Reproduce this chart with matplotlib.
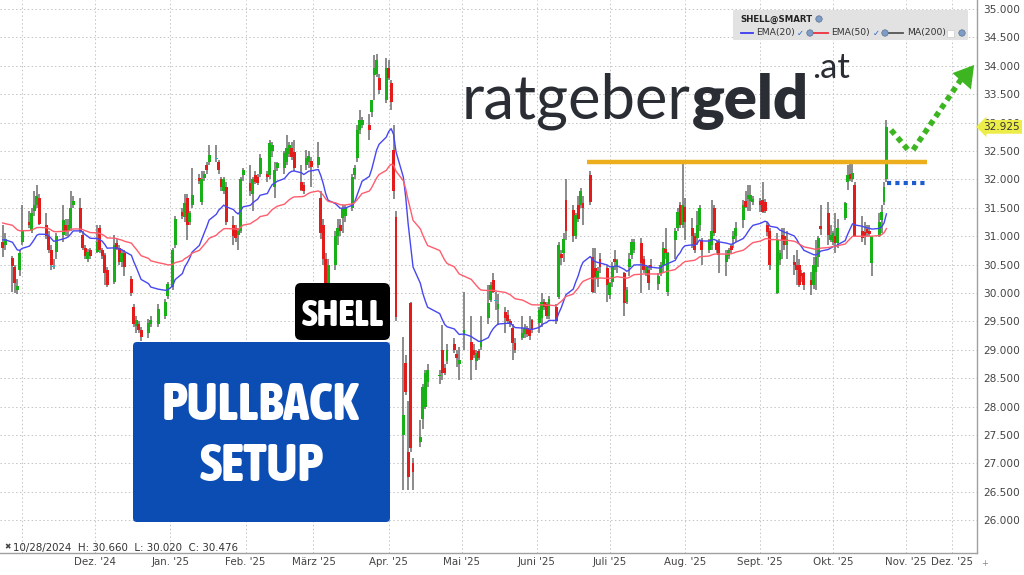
import os
import numpy as np
import pandas as pd
import matplotlib
matplotlib.use('Agg')
import matplotlib.pyplot as plt
import matplotlib.dates as mdates
from matplotlib import font_manager, transforms
from matplotlib.font_manager import FontProperties
from matplotlib.patches import FancyBboxPatch, Rectangle, Polygon, Circle
from matplotlib.lines import Line2D

W, H = 1024, 575

# ---------------- data ----------------
holidays = ['2024-12-25', '2024-12-26', '2025-01-01', '2025-04-18', '2025-04-21', '2025-05-01']
dates = [d for d in pd.bdate_range('2024-10-24', '2025-10-23') if d.strftime('%Y-%m-%d') not in holidays]

opens = [30.90, 30.85, 30.62, 30.45, 30.05, 30.40, 30.90,
         31.25, 31.10, 31.45, 31.55, 31.67,
         31.20, 31.00, 30.75, 30.46, 30.72,
         31.02, 31.20, 31.10, 31.15, 31.55,
         31.50, 31.02, 30.80, 30.60, 30.75,
         30.72, 31.15, 30.75, 30.67, 30.40,
         30.20, 30.88, 30.80, 30.55, 30.70,
         30.25, 29.75, 29.42, 29.45, 29.35,
         29.30, 29.45, 29.45,
         29.60, 29.95, 30.10, 30.85,
         31.42, 31.33, 31.67, 31.25, 31.55,
         32.02, 31.60, 32.02, 32.25, 32.30,
         32.36, 32.30, 32.00, 31.80, 31.87,
         31.20, 31.15, 31.02, 31.10, 32.07,
         31.93, 31.75, 32.07, 32.05, 32.10,
         32.10, 32.08, 32.50, 31.87, 32.20,
         32.20, 32.30, 32.45, 32.55, 32.48,
         31.95, 31.90, 32.25, 32.30, 32.32,
         32.25, 31.67, 31.20, 30.60, 30.15,
         30.50, 31.00, 31.20, 31.32, 31.35,
         31.50, 32.07, 32.38, 32.87, 32.95,
         32.96, 33.19, 33.84, 33.85, 33.78,
         33.40, 33.96, 33.70, 32.52, 31.34,
         27.50, 28.77, 27.20, 29.82, 27.00,
         27.38, 27.78, 28.00, 28.43,
         28.54, 29.00, 28.68, 28.80,
         29.10, 28.92, 28.75, 29.26,
         29.14, 29.00, 28.80, 28.98, 29.05,
         29.56, 29.88, 30.23, 29.86, 29.72,
         29.67, 29.62, 29.50, 29.38, 29.12,
         29.20, 29.28, 29.38, 29.35, 29.52,
         29.47, 29.56, 29.84, 29.80, 29.60,
         29.75, 29.93, 30.68, 30.70, 31.64,
         31.46, 31.00, 31.55, 31.55, 31.58,
         32.07, 30.63, 30.44, 30.25, 30.60,
         30.44, 29.96, 30.20, 30.60, 30.45,
         30.35, 29.85, 30.45, 30.67, 30.75,
         30.88, 30.60, 30.35, 30.40, 30.50,
         30.15, 30.35, 30.50, 30.78, 30.02,
         30.93, 31.14, 31.55, 31.20, 31.52,
         31.15, 31.00, 30.97, 31.20, 30.93,
         30.75, 30.85, 31.50, 30.88, 30.90,
         30.55, 30.65, 30.82, 30.95, 31.00,
         31.28, 31.62, 31.65, 31.62, 31.60,
         31.62, 31.64, 31.60, 31.20, 31.10,
         30.00, 30.58, 31.02, 31.00, 30.85,
         30.55, 30.50, 30.50, 30.35, 30.35,
         30.23, 30.14, 30.37, 30.63, 31.18,
         31.40, 30.93, 30.90, 31.00, 30.88,
         31.32, 31.95, 32.10, 32.00, 31.90,
         31.10, 31.08, 31.12, 31.10, 30.53,
         31.00, 31.29, 31.60, 32.00]

highs = [31.20, 31.05, 30.66, 30.50, 30.25, 30.75, 31.55,
         31.45, 31.50, 31.80, 31.90, 31.75,
         31.40, 31.10, 30.85, 30.60, 31.05,
         31.55, 31.30, 31.30, 31.80, 31.70,
         31.68, 31.10, 30.85, 30.78, 30.80,
         31.20, 31.20, 30.80, 30.70, 30.45,
         31.02, 30.95, 30.85, 30.75, 30.75,
         30.30, 29.80, 29.60, 29.50, 29.40,
         29.55, 29.60, 29.80,
         29.90, 30.20, 30.80, 31.35,
         31.50, 31.75, 31.75, 31.45, 32.20,
         32.10, 32.15, 32.15, 32.30, 32.60,
         32.60, 32.35, 32.05, 32.05, 31.95,
         31.35, 31.20, 31.15, 32.05, 32.20,
         32.25, 32.05, 32.15, 32.10, 32.45,
         32.15, 32.70, 32.65, 32.30, 32.30,
         32.50, 32.78, 32.65, 32.65, 32.70,
         32.25, 31.95, 32.52, 32.50, 32.40,
         32.65, 31.80, 31.30, 30.70, 30.60,
         31.10, 31.30, 31.30, 31.55, 31.55,
         32.10, 32.25, 32.95, 33.22, 33.10,
         33.15, 33.40, 34.19, 34.20, 33.85,
         34.14, 34.10, 33.75, 32.96, 31.45,
         29.23, 28.90, 28.10, 29.85, 27.10,
         27.76, 28.40, 28.65, 28.75,
         28.64, 29.44, 28.75, 29.10,
         29.20, 29.00, 29.05, 30.02,
         29.60, 29.10, 29.00, 29.02, 29.60,
         30.14, 30.20, 30.35, 30.02, 29.98,
         29.75, 29.70, 29.55, 29.45, 29.20,
         29.60, 29.45, 29.42, 29.60, 29.55,
         29.75, 30.00, 29.90, 29.85, 29.95,
         29.80, 30.90, 30.75, 31.05, 32.00,
         31.55, 31.40, 31.70, 31.85, 31.70,
         32.15, 30.80, 30.80, 30.45, 30.70,
         30.50, 30.20, 30.55, 30.75, 30.60,
         30.37, 30.10, 30.70, 30.95, 30.95,
         30.97, 30.65, 30.50, 30.50, 30.60,
         30.35, 30.55, 30.90, 31.15, 30.72,
         31.15, 31.50, 31.60, 32.30, 31.67,
         31.32, 31.05, 31.45, 31.55, 30.97,
         30.95, 31.64, 31.55, 30.92, 30.95,
         30.75, 30.80, 30.85, 31.10, 31.25,
         31.64, 31.80, 31.90, 31.90, 31.70,
         31.68, 31.95, 31.65, 31.25, 31.15,
         31.05, 30.75, 31.15, 31.15, 31.10,
         30.67, 30.75, 30.60, 30.40, 30.37,
         30.37, 30.63, 30.93, 31.00, 31.55,
         31.60, 31.20, 31.10, 31.40, 31.30,
         31.60, 32.25, 32.30, 32.30, 31.95,
         31.35, 31.25, 31.20, 31.20, 31.00,
         31.40, 31.55, 31.95, 33.05]

lows = [30.63, 30.75, 30.02, 30.00, 29.98, 30.30, 30.85,
        31.15, 31.05, 31.35, 31.50, 31.20,
        30.95, 30.70, 30.40, 30.42, 30.60,
        30.90, 31.00, 31.00, 31.10, 31.50,
        31.05, 30.75, 30.60, 30.55, 30.60,
        30.70, 30.70, 30.60, 30.14, 30.10,
        30.15, 30.75, 30.50, 30.45, 30.30,
        29.95, 29.40, 29.30, 29.30, 29.15,
        29.20, 29.40, 29.40,
        29.55, 29.90, 30.05, 30.80,
        31.30, 31.25, 30.93, 31.20, 31.50,
        31.92, 31.55, 31.98, 32.10, 32.25,
        32.30, 32.10, 31.80, 31.75, 31.20,
        30.85, 30.90, 30.75, 31.05, 31.98,
        31.70, 31.45, 31.92, 31.90, 32.05,
        31.95, 32.00, 32.40, 31.67, 32.15,
        32.10, 32.25, 32.40, 32.35, 32.15,
        31.80, 31.75, 32.17, 32.20, 31.87,
        32.20, 30.95, 30.50, 30.00, 30.05,
        30.40, 30.85, 31.00, 31.05, 31.25,
        31.45, 32.00, 32.30, 32.80, 32.90,
        32.70, 33.10, 33.40, 33.80, 33.50,
        33.35, 33.75, 33.22, 31.65, 29.50,
        26.53, 28.20, 26.53, 27.20, 26.53,
        27.29, 27.60, 27.95, 28.35,
        28.40, 28.47, 28.55, 28.75,
        28.95, 28.70, 28.47, 29.00,
        28.47, 28.85, 28.64, 28.82, 29.00,
        29.45, 29.85, 30.00, 29.70, 29.44,
        29.30, 29.45, 29.40, 28.82, 28.95,
        29.17, 29.20, 29.22, 29.17, 29.30,
        29.30, 29.40, 29.70, 29.55, 29.55,
        29.45, 29.90, 30.50, 30.55, 30.93,
        30.90, 30.95, 31.25, 31.50, 31.20,
        31.55, 30.00, 30.00, 30.10, 30.35,
        29.85, 29.90, 30.10, 30.40, 30.35,
        29.60, 29.80, 30.30, 30.60, 30.70,
        30.00, 30.35, 30.30, 30.05, 30.40,
        30.05, 30.30, 30.35, 30.60, 29.95,
        30.60, 31.10, 31.15, 31.15, 30.93,
        30.80, 30.70, 30.85, 31.10, 30.50,
        30.70, 30.75, 31.00, 30.70, 30.35,
        30.30, 30.60, 30.70, 30.80, 30.90,
        31.15, 31.50, 31.45, 31.45, 31.55,
        31.42, 31.40, 31.40, 31.00, 30.40,
        29.98, 30.50, 30.60, 30.75, 30.60,
        30.32, 30.14, 30.10, 30.20, 30.05,
        29.96, 30.07, 30.05, 30.45, 31.02,
        30.85, 30.90, 30.85, 30.70, 30.80,
        31.28, 31.81, 31.98, 31.95, 31.00,
        30.90, 30.85, 31.00, 31.00, 30.30,
        30.98, 31.05, 31.55, 31.95]

closes = [30.80, 30.95, 30.476, 30.18, 30.12, 30.70, 31.10,
          31.20, 31.40, 31.55, 31.70, 31.22,
          31.00, 30.76, 30.50, 30.46, 31.00,
          31.28, 31.10, 31.20, 31.50, 31.62,
          31.10, 30.80, 30.65, 30.72, 30.65,
          30.90, 30.75, 30.65, 30.35, 30.14,
          30.85, 30.78, 30.55, 30.70, 30.45,
          30.00, 29.45, 29.52, 29.35, 29.22,
          29.48, 29.52, 29.72,
          29.85, 30.15, 30.76, 31.30,
          31.35, 31.58, 31.20, 31.40, 31.73,
          31.97, 32.00, 32.10, 32.16, 32.43,
          32.36, 32.16, 31.87, 32.00, 31.25,
          31.00, 30.97, 31.10, 32.00, 32.16,
          31.80, 32.00, 31.95, 31.93, 32.38,
          32.05, 32.64, 32.60, 32.16, 32.28,
          32.46, 32.55, 32.60, 32.40, 32.20,
          31.82, 31.80, 32.38, 32.42, 32.22,
          32.40, 31.05, 30.60, 30.10, 30.50,
          31.00, 31.15, 31.10, 31.50, 31.50,
          32.04, 32.20, 32.87, 33.05, 33.04,
          32.87, 33.40, 33.96, 34.10, 33.57,
          33.96, 33.78, 33.36, 31.80, 29.58,
          27.85, 28.26, 26.76, 27.27, 26.85,
          27.46, 28.35, 28.60, 28.65,
          28.56, 28.60, 28.60, 29.00,
          29.00, 28.85, 28.82, 29.35,
          28.82, 28.90, 28.95, 28.86, 29.17,
          29.82, 30.14, 30.02, 29.86, 29.80,
          29.56, 29.50, 29.45, 29.12, 29.00,
          29.30, 29.38, 29.28, 29.25, 29.35,
          29.70, 29.84, 29.75, 29.60, 29.90,
          29.50, 30.85, 30.62, 30.95, 31.10,
          31.00, 31.37, 31.30, 31.80, 31.50,
          31.60, 30.02, 30.28, 30.38, 30.45,
          30.14, 30.18, 30.45, 30.55, 30.58,
          29.82, 30.05, 30.60, 30.90, 30.90,
          30.53, 30.40, 30.45, 30.18, 30.45,
          30.30, 30.50, 30.80, 30.70, 30.70,
          31.10, 31.42, 31.20, 31.55, 31.25,
          31.00, 30.75, 31.20, 31.50, 30.76,
          30.90, 31.10, 31.05, 30.75, 30.67,
          30.67, 30.75, 30.76, 31.00, 31.15,
          31.55, 31.52, 31.73, 31.72, 31.66,
          31.55, 31.43, 31.45, 31.08, 30.50,
          30.93, 30.70, 30.93, 30.85, 30.95,
          30.50, 30.40, 30.14, 30.30, 30.14,
          30.14, 30.50, 30.63, 30.97, 31.12,
          31.02, 31.02, 31.05, 30.88, 31.15,
          31.58, 32.07, 32.00, 32.12, 31.00,
          30.97, 31.00, 31.05, 31.04, 31.00,
          31.25, 31.42, 31.87, 32.925]

ema20_seed = 30.95
ema50_seed = 31.25
resistance = 32.30
stop_level = 31.94
last_price = 32.925

y_ticks = list(np.arange(26.0, 35.01, 0.5))
tick_dates = ['2024-11-01', '2024-12-01', '2025-01-01', '2025-02-01', '2025-03-01', '2025-04-01',
              '2025-05-01', '2025-06-01', '2025-07-01', '2025-08-01', '2025-09-01', '2025-10-01',
              '2025-10-31', '2025-11-19']
tick_labels = ['', "Dez. '24", "Jan. '25", "Feb. '25", "März '25", "Apr. '25", "Mai '25",
               "Juni '25", "Juli '25", "Aug. '25", "Sept. '25", "Okt. '25", "Nov. '25", "Dez. '25"]

n = min(len(dates), len(opens), len(highs), len(lows), len(closes))
dates = dates[:n]
o = np.array(opens[:n]); h = np.array(highs[:n]); l = np.array(lows[:n]); c = np.array(closes[:n])


def ema(values, span, seed):
    a = 2.0 / (span + 1)
    out, prev = [], seed
    for v in values:
        prev = prev + a * (v - prev)
        out.append(prev)
    return np.array(out)


ema20 = ema(c, 20, ema20_seed)
ema50 = ema(c, 50, ema50_seed)

# ---------------- fonts ----------------
def pick_font(condensed=True, min_weight=600):
    best, best_score = None, -1e9
    for f in font_manager.fontManager.ttflist:
        name = f.name.lower()
        base = os.path.basename(f.fname).lower()
        st = f.stretch
        stv = font_manager.stretch_dict.get(st, 500) if isinstance(st, str) else st
        wt = f.weight
        wtv = font_manager.weight_dict.get(wt, 400) if isinstance(wt, str) else wt
        is_cond = (stv < 500) or ('narrow' in name) or ('condensed' in name) or ('condensed' in base) or ('narrow' in base)
        if condensed and not is_cond:
            continue
        if wtv < min_weight:
            continue
        if 'italic' in base or 'oblique' in base:
            continue
        score = -abs(wtv - 750) / 100.0
        if 'extracondensed' in base or 'extra' in base:
            score += 0.5
        if score > best_score:
            best, best_score = f, score
    if best is None:
        return FontProperties(family='DejaVu Sans', weight='bold')
    return FontProperties(fname=best.fname)


cond_bold = pick_font(True, 600)

# ---------------- figure ----------------
fig = plt.figure(figsize=(W / 100, H / 100), dpi=100)
fig.patch.set_facecolor('white')
ax = fig.add_axes([0, 22 / H, 977 / W, 553 / H])
ax.set_facecolor('white')

d0 = mdates.date2num(pd.Timestamp('2024-10-28'))
ax.set_xlim(d0 - 5.13, d0 + 397.3)
ax.set_ylim(35 - (553 - 9) / 56.8, 35 + 9 / 56.8)

x = mdates.date2num(dates)
ax.vlines(x, l, h, color='#6c6c6c', lw=1.1, zorder=2)
diff = c - o
body_col = np.where(diff > 0.004, '#17b117', np.where(diff < -0.004, '#e31b1b', '#21b8c9'))
bottoms = np.minimum(o, c)
heights = np.maximum(np.abs(diff), 0.016)
ax.bar(x, heights, width=1.2, bottom=bottoms, color=body_col, linewidth=0, zorder=3)

ax.plot(x, ema20, color='#4747f2', lw=1.0, zorder=4)
ax.plot(x, ema50, color='#ff5c6c', lw=1.0, zorder=4)

# grid / axes
ax.set_yticks(y_ticks)
ax.set_yticklabels(['%.3f' % v for v in y_ticks])
ax.yaxis.tick_right()
ax.set_xticks(mdates.date2num(pd.to_datetime(tick_dates)))
ax.set_xticklabels(tick_labels)
ax.tick_params(axis='y', length=0, pad=4.3, labelsize=7.6, labelcolor='#444444')
ax.tick_params(axis='x', length=0, pad=3.2, labelsize=7.4, labelcolor='#444444')
ax.grid(True, color='#c4c4c4', lw=0.7, linestyle=(0, (1.5, 2.5)), zorder=0)
ax.set_axisbelow(True)
for s in ['top', 'left']:
    ax.spines[s].set_visible(False)
for s in ['right', 'bottom']:
    ax.spines[s].set_color('#a0a0a0')
    ax.spines[s].set_linewidth(1.0)

# resistance (orange), stop (blue dotted)
ax.plot([d0 + 236.6, d0 + 376.5], [resistance, resistance], color='#ecae1c', lw=3.2,
        solid_capstyle='butt', zorder=6)
ax.plot([d0 + 360.2, d0 + 376.5], [stop_level, stop_level], color='#1d5bd1', lw=3.0,
        linestyle=(0, (1, 1)), dash_capstyle='butt', zorder=6)

# green dotted arrow
g = '#3cb521'
ax.plot([d0 + 361.9, d0 + 369.7], [32.87, 32.48], color=g, lw=4, linestyle=(0, (1, 0.8)),
        dash_capstyle='butt', zorder=7, clip_on=False)
ax.plot([d0 + 371.0, d0 + 391.1], [32.52, 33.785], color=g, lw=4, linestyle=(0, (1, 0.8)),
        dash_capstyle='butt', zorder=7, clip_on=False)
ax.add_patch(Polygon([[d0 + 396.1, 34.014], [d0 + 394.8, 33.583], [d0 + 387.2, 33.871]],
                     closed=True, fc=g, ec='none', zorder=7, clip_on=False))

# price tag (drawn over the 33.000 label, as in the reference)
ax.text(1.0 + 6.5 / 977, last_price, '%.3f' % last_price, transform=ax.get_yaxis_transform(),
        ha='left', va='center', fontsize=7.6, color='#333333', zorder=20, clip_on=False,
        bbox=dict(boxstyle='larrow,pad=0.18', fc='#eded4a', ec='none'))
fig.text(985 / W, 1 - 563 / H, '+', fontsize=6, color='#888888', ha='center', va='center')

# ---------------- overlays ----------------
ident = transforms.IdentityTransform()


def pbox(x0, y0, x1, y1, color, r=4, z=5):
    p = FancyBboxPatch((x0, H - y1), x1 - x0, y1 - y0,
                       boxstyle='round,pad=0,rounding_size=%g' % r,
                       transform=ident, fc=color, ec='none', zorder=z)
    fig.patches.append(p)
    return p


renderer = fig.canvas.get_renderer()


def fit_text(s, xc, baseline, target_w, fp, color, ha='center', z=6):
    t = fig.text(xc / W, 1 - baseline / H, s, ha=ha, va='baseline', fontproperties=fp,
                 fontsize=20, color=color, zorder=z)
    bb = t.get_window_extent(renderer)
    t.set_fontsize(20 * target_w / bb.width)
    return t


# legend box
pbox(733, 10, 968, 40, '#e2e2e2', r=1, z=5)
fig.text(740 / W, 1 - 19 / H, 'SHELL@SMART', fontsize=6.2, weight='bold', color='#222222',
         va='center', ha='left', zorder=6)


def globe(px, py):
    fig.patches.append(Circle((px, H - py), 3.2, transform=ident, fc='#7d9dc7', ec='#5a6f8f',
                              lw=0.5, zorder=6))


globe(819, 19)
ly = 33
for (x0, x1, col, label, tx) in [(741, 753, '#3a3af0', 'EMA(20)', 756),
                                 (813, 828, '#f03040', 'EMA(50)', 831),
                                 (888, 903, '#555555', 'MA(200)', 907)]:
    fig.lines.append(Line2D([x0 / W, x1 / W], [1 - ly / H, 1 - ly / H], color=col, lw=1.3,
                            transform=fig.transFigure, zorder=6))
    fig.text(tx / W, 1 - ly / H, label, fontsize=6.7, color='#333333', va='center', ha='left', zorder=6)
fig.text(800 / W, 1 - ly / H, '✓', fontsize=6, color='#2a64c4', va='center', ha='center', zorder=6)
fig.text(876 / W, 1 - ly / H, '✓', fontsize=6, color='#2a64c4', va='center', ha='center', zorder=6)
globe(810, ly)
globe(885, ly)
globe(962, ly)
fig.patches.append(Rectangle((947, H - ly - 3.5), 7, 7, transform=ident, fc='white', ec='#cccccc',
                             lw=0.5, zorder=6))

# status text
fig.text(4 / W, 1 - 547 / H, '✖', fontsize=5.5, color='#444444', va='center', ha='left')
fig.text(13 / W, 1 - 548 / H, '10/28/2024  H: 30.660  L: 30.020  C: 30.476', fontsize=7.4,
         color='#333333', va='center', ha='left')

# SHELL / PULLBACK SETUP boxes
pbox(295, 283, 390, 340, '#000000', r=6, z=8)
pbox(133, 342, 390, 522, '#0c4db4', r=4, z=8)
fit_text('SHELL', 342.5, 326, 82, cond_bold, 'white', z=9)
fit_text('PULLBACK', 260.5, 420, 196, cond_bold, 'white', z=9)
fit_text('SETUP', 261.5, 481, 123, cond_bold, 'white', z=9)

# logo
logo_col = '#2a2d34'
reg = FontProperties(family=['Lato', 'DejaVu Sans'], weight='normal')
bold = FontProperties(family=['Lato', 'DejaVu Sans'], weight='heavy')
t1 = fig.text(462 / W, 1 - 118 / H, 'ratgeber', fontproperties=reg, fontsize=40, color=logo_col,
              ha='left', va='baseline', zorder=6)
t2 = fig.text(0, 1 - 118 / H, 'geld', fontproperties=bold, fontsize=40, color=logo_col,
              ha='left', va='baseline', zorder=6)
b1 = t1.get_window_extent(renderer)
t2.set_x(b1.x1 / W)
b2 = t2.get_window_extent(renderer)
scale = 346.0 / (b2.x1 - b1.x0)
t1.set_fontsize(40 * scale)
t2.set_fontsize(40 * scale)
b1 = t1.get_window_extent(renderer)
t2.set_x((b1.x1 + 1) / W)
fit_text('.at', 812, 78, 38, reg, logo_col, ha='left', z=6)

fig.savefig('out.png', dpi=100, facecolor='white')
